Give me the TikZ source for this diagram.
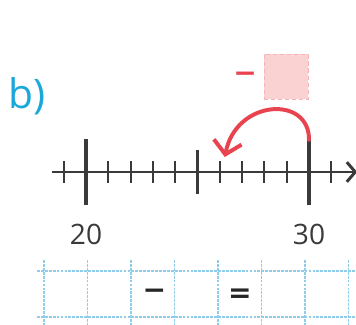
\documentclass[tikz,border=0pt]{standalone}
\usepackage{fontspec}
\setmainfont{Open Sans}
\newfontfamily\symfont{DejaVu Sans}
\usetikzlibrary{arrows.meta, positioning}
\definecolor{taskcyan}{HTML}{1AA7D9}
\definecolor{jumpred}{HTML}{E8434F}
\definecolor{boxpink}{HTML}{F9D2D1}
\definecolor{axisgray}{HTML}{3A3A3C}
\definecolor{gridblue}{HTML}{8FCDEB}

\begin{document}
\begin{tikzpicture}[
    >=Stealth,
    numtick/.style={draw=axisgray, line width=#1},
    numlabel/.style={font=\fontsize{20}{20}\selectfont, text=axisgray},
    axisline/.style={draw=axisgray, line width=2.1pt, -{Straight Barb[length=6pt, width=14pt]}},
    jumparrow/.style={draw=jumpred, line width=2.8pt, line cap=round, -{Straight Barb[length=9pt, width=20pt]}},
    pinkbox/.style={draw=jumpred!40, densely dashed, line width=0.5pt, fill=boxpink, minimum width=1.1cm, minimum height=1.12cm, inner sep=0pt},
    gridline/.style={draw=gridblue, line width=0.9pt, dash pattern=on 2pt off 0.8pt},
    handsign/.style={font=\symfont\bfseries\fontsize{20}{20}\selectfont, text=black!85},
]
\useasboundingbox (0,0) rectangle (8.9,8.125);

% Task letter
\node[font=\fontsize{29}{29}\selectfont, text=taskcyan] (task) at (0.68,5.72) {b)};

% Number line
\draw[axisline] (1.3,3.825) -- (8.93,3.825);
\foreach \i in {-1,1,2,3,4,6,7,8,9,11}
  \draw[numtick=1.4pt] ({2.15+0.5575*\i},3.55) -- ({2.15+0.5575*\i},4.1);
\draw[numtick=2.8pt] ({2.15+0.5575*5},3.275) -- ({2.15+0.5575*5},4.375);
\draw[numtick=3.5pt] (2.15,3.0) -- (2.15,4.65);
\draw[numtick=3.5pt] (7.725,3.0) -- (7.725,4.65);
\coordinate (top30) at (7.725,4.62);
\coordinate (land) at (5.62,4.2);

% Labels under the long ticks
\node[numlabel] (l20) at (2.15,2.27) {20};
\node[numlabel] (l30) at (7.725,2.27) {30};

% Jump back and box to fill in
\node[font=\symfont\bfseries\fontsize{20}{20}\selectfont, text=jumpred] (minus) at (6.13,6.2) {−};
\node[pinkbox] (answer) at (7.15,6.21) {};
\draw[jumparrow] (top30) .. controls (7.75,5.75) and (5.9,5.65) .. (land);

% Answer grid
\foreach \y in {1.35,0.2}
  \draw[gridline] (0.925,\y) -- (8.9,\y);
\foreach \k in {0,...,7}
  \draw[gridline] ({1.1+1.087*\k},1.625) -- ({1.1+1.087*\k},0);
\node[handsign] (sub) at (3.86,0.78) {−};
\node[handsign] (eq) at (6.0,0.73) {=};

\end{tikzpicture}
\end{document}
